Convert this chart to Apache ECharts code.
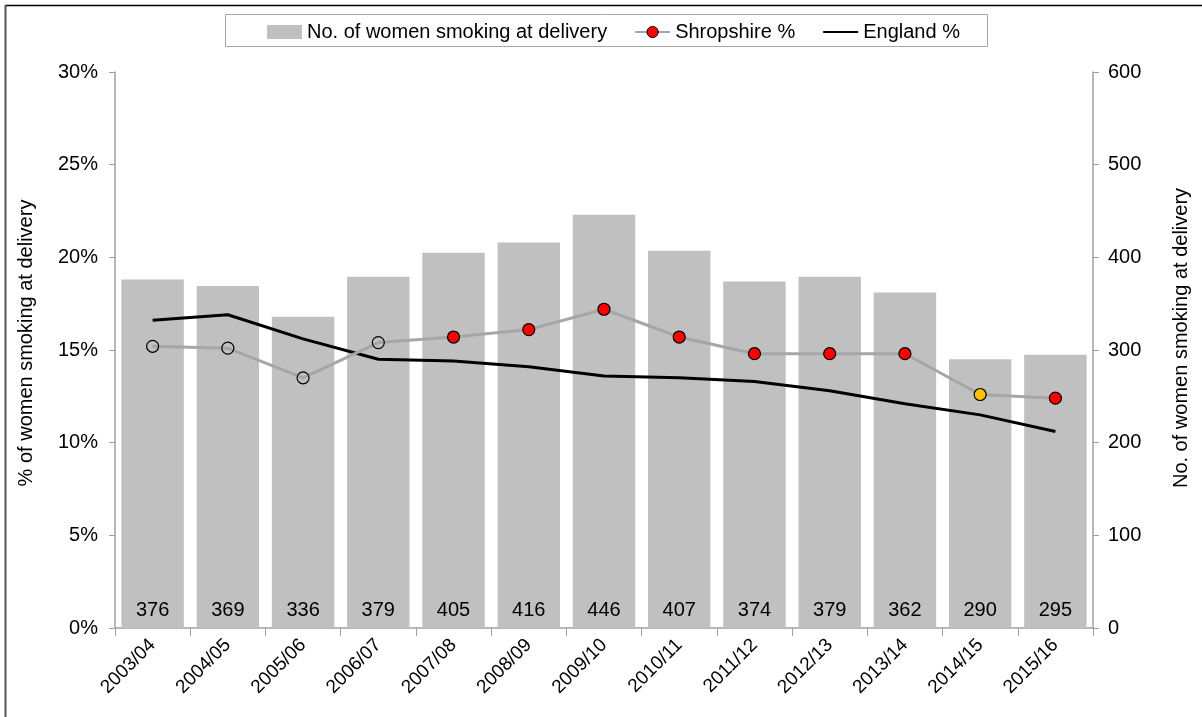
<!DOCTYPE html>
<html><head><meta charset="utf-8">
<script src="https://cdn.jsdelivr.net/npm/echarts@6/dist/echarts.min.js"></script>
<style>html,body{margin:0;padding:0;background:#fff}#c{width:1202px;height:717px}</style>
</head><body><div id="c"></div>
<script>
const categories = ['2003/04','2004/05','2005/06','2006/07','2007/08','2008/09','2009/10','2010/11','2011/12','2012/13','2013/14','2014/15','2015/16'];
const womenSmoking = [376,369,336,379,405,416,446,407,374,379,362,290,295];
const shropshirePct = [15.2,15.1,13.5,15.4,15.7,16.1,17.2,15.7,14.8,14.8,14.8,12.6,12.4];
const englandPct = [16.6,16.9,15.6,14.5,14.4,14.1,13.6,13.5,13.3,12.8,12.1,11.5,10.6];
const markerColors = ['transparent','transparent','transparent','transparent','#ff0000','#ff0000','#ff0000','#ff0000','#ff0000','#ff0000','#ff0000','#ffc000','#ff0000'];
const leftTicks = [0,5,10,15,20,25,30];
const rightTicks = [0,100,200,300,400,500,600];

const font = 'Liberation Sans, Arial, sans-serif';
const chart = echarts.init(document.getElementById('c'), null, {renderer:'canvas'});
chart.setOption({
  animation:false,
  textStyle:{fontFamily:font,color:'#000'},
  graphic:[
    {type:'line',shape:{x1:5,y1:5.5,x2:1202,y2:5.5},style:{stroke:'#000',lineWidth:1.5}},
    {type:'line',shape:{x1:5.5,y1:5,x2:5.5,y2:717},style:{stroke:'#555',lineWidth:2}},
    {type:'rect',shape:{x:225.5,y:14.5,width:762,height:32},style:{fill:'none',stroke:'#a6a6a6',lineWidth:1}}
  ],
  legend:{
    top:17,left:262,itemGap:27,itemWidth:35,itemHeight:14,
    textStyle:{fontSize:20,fontFamily:font,color:'#000'},
    data:[
      {name:'No. of women smoking at delivery',icon:'rect'},
      {name:'Shropshire %',itemStyle:{color:'#ff0000',borderColor:'#000',borderWidth:1}},
      {name:'England %',itemStyle:{opacity:0}}
    ]
  },
  grid:{left:115,right:109,top:72,bottom:89},
  xAxis:{
    type:'category',data:categories,
    axisLine:{lineStyle:{color:'#a0a0a0',width:1.5}},
    axisTick:{show:true,alignWithLabel:false,length:8,lineStyle:{color:'#a0a0a0'}},
    axisLabel:{rotate:45,fontSize:19,color:'#000',margin:14,fontFamily:font}
  },
  yAxis:[
    {type:'value',min:0,max:30,interval:5,position:'left',
     name:'% of women smoking at delivery',nameLocation:'middle',nameGap:79,nameRotate:90,
     nameTextStyle:{fontSize:20,color:'#000',fontFamily:font,padding:[0,0,0,14]},
     axisLine:{show:true,lineStyle:{color:'#a0a0a0',width:1.5}},
     axisTick:{show:true,length:6,lineStyle:{color:'#a0a0a0'}},
     splitLine:{show:false},
     axisLabel:{formatter:v=>v+'%',fontSize:20,color:'#000',margin:17,fontFamily:font}},
    {type:'value',min:0,max:600,interval:100,position:'right',
     name:'No. of women smoking at delivery',nameLocation:'middle',nameGap:78,nameRotate:90,
     nameTextStyle:{fontSize:20,color:'#000',fontFamily:font,padding:[0,0,0,24]},
     axisLine:{show:true,lineStyle:{color:'#a0a0a0',width:1.5}},
     axisTick:{show:true,length:6,lineStyle:{color:'#a0a0a0'}},
     splitLine:{show:false},
     axisLabel:{fontSize:20,color:'#000',margin:15,fontFamily:font}}
  ],
  series:[
    {name:'No. of women smoking at delivery',type:'bar',yAxisIndex:1,data:womenSmoking,
     barCategoryGap:'17%',itemStyle:{color:'#c0c0c0'},
     label:{show:true,position:'insideBottom',distance:8,fontSize:20,color:'#000',fontFamily:font}},
    {name:'Shropshire %',type:'line',yAxisIndex:0,
     data:shropshirePct.map((v,i)=>({value:v,itemStyle:{color:markerColors[i],borderColor:'#000',borderWidth:1.2}})),
     symbol:'circle',symbolSize:12,lineStyle:{color:'#a6a6a6',width:3},
     itemStyle:{color:'#ff0000',borderColor:'#000',borderWidth:1.2},z:4},
    {name:'England %',type:'line',yAxisIndex:0,data:englandPct,
     symbol:'none',lineStyle:{color:'#000',width:3},itemStyle:{color:'#000'},z:3}
  ]
});
</script></body></html>
